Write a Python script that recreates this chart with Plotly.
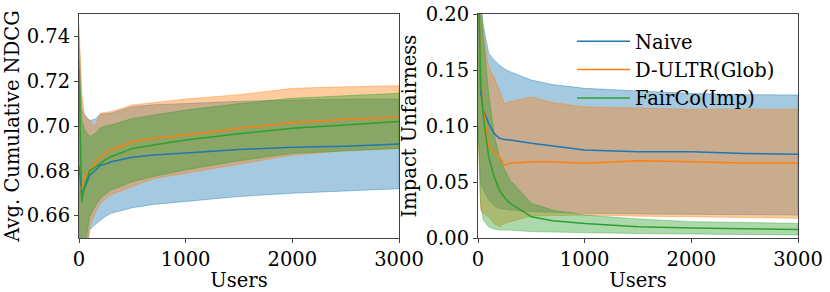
import plotly.graph_objects as go

# ---------------- data ----------------
users = [0, 25, 50, 100, 150, 200, 250, 300, 500, 700, 1000, 1500, 2000, 2500, 3000]

# Avg. Cumulative NDCG (left panel)
ndcg_naive_mean = [0.682, 0.670, 0.672, 0.678, 0.680, 0.6825, 0.683, 0.684, 0.686, 0.687, 0.688, 0.6895, 0.6905, 0.691, 0.692]
ndcg_naive_upper = [0.740, 0.708, 0.705, 0.7025, 0.703, 0.7052, 0.7055, 0.7057, 0.7086, 0.7095, 0.710, 0.711, 0.7116, 0.712, 0.712]
ndcg_naive_lower = [0.620, 0.632, 0.640, 0.6536, 0.656, 0.658, 0.6597, 0.661, 0.6635, 0.665, 0.6664, 0.6685, 0.670, 0.671, 0.672]

ndcg_dultr_mean = [0.671, 0.673, 0.677, 0.680, 0.683, 0.6864, 0.688, 0.6893, 0.693, 0.6945, 0.696, 0.699, 0.7015, 0.703, 0.7039]
ndcg_dultr_upper = [0.745, 0.715, 0.705, 0.7024, 0.700, 0.7057, 0.706, 0.7064, 0.7094, 0.7105, 0.712, 0.714, 0.7168, 0.7175, 0.718]
ndcg_dultr_lower = [0.600, 0.630, 0.640, 0.655, 0.661, 0.6655, 0.6675, 0.6692, 0.673, 0.6765, 0.6789, 0.683, 0.687, 0.689, 0.690]

ndcg_fairco_mean = [0.725, 0.666, 0.673, 0.680, 0.6815, 0.6833, 0.685, 0.6863, 0.690, 0.6915, 0.6938, 0.6965, 0.699, 0.7005, 0.702]
ndcg_fairco_upper = [0.730, 0.703, 0.6985, 0.6952, 0.6965, 0.6992, 0.700, 0.7004, 0.7034, 0.705, 0.7071, 0.710, 0.7124, 0.7135, 0.7146]
ndcg_fairco_lower = [0.660, 0.630, 0.645, 0.6595, 0.664, 0.6677, 0.6695, 0.6714, 0.6751, 0.6775, 0.6804, 0.6845, 0.6878, 0.689, 0.690]

# Impact Unfairness (right panel)
unf_naive_mean = [0.250, 0.130, 0.114, 0.1024, 0.0935, 0.089, 0.088, 0.0875, 0.0845, 0.082, 0.0786, 0.077, 0.0771, 0.0755, 0.0747]
unf_naive_upper = [0.300, 0.210, 0.190, 0.165, 0.159, 0.1545, 0.151, 0.1485, 0.141, 0.137, 0.1336, 0.131, 0.129, 0.128, 0.1277]
unf_naive_lower = [0.100, 0.050, 0.043, 0.034, 0.029, 0.0265, 0.0255, 0.025, 0.0235, 0.0225, 0.022, 0.0215, 0.021, 0.0207, 0.0205]

unf_dultr_mean = [0.250, 0.140, 0.114, 0.0815, 0.077, 0.0726, 0.065, 0.0667, 0.068, 0.068, 0.0667, 0.069, 0.068, 0.067, 0.0667]
unf_dultr_upper = [0.300, 0.200, 0.183, 0.153, 0.144, 0.132, 0.120, 0.1217, 0.126, 0.121, 0.117, 0.116, 0.115, 0.115, 0.115]
unf_dultr_lower = [0.100, 0.025, 0.022, 0.019, 0.013, 0.010, 0.013, 0.0146, 0.0196, 0.020, 0.0205, 0.0195, 0.019, 0.018, 0.0176]

unf_fairco_mean = [0.250, 0.140, 0.108, 0.0726, 0.055, 0.043, 0.036, 0.031, 0.019, 0.0155, 0.013, 0.010, 0.0089, 0.008, 0.0077]
unf_fairco_upper = [0.300, 0.210, 0.180, 0.129, 0.0935, 0.0726, 0.061, 0.0518, 0.031, 0.025, 0.0205, 0.017, 0.0146, 0.0135, 0.013]
unf_fairco_lower = [0.100, 0.030, 0.016, 0.010, 0.008, 0.0071, 0.0071, 0.0071, 0.0057, 0.005, 0.0048, 0.004, 0.0033, 0.003, 0.0027]

series_names = ["Naive", "D-ULTR(Glob)", "FairCo(Imp)"]
x_ticks = [0, 1000, 2000, 3000]
ndcg_ticks = [0.66, 0.68, 0.70, 0.72, 0.74]
unf_ticks = [0.00, 0.05, 0.10, 0.15, 0.20]

# ---------------- style ----------------
colors = ["#1f77b4", "#ff7f0e", "#2ca02c"]
fills = ["rgba(31,119,180,0.4)", "rgba(255,127,14,0.4)", "rgba(44,160,44,0.4)"]
FONT = "DejaVu Serif, serif"
FS = 19.5

fig = go.Figure()

left = [(ndcg_naive_mean, ndcg_naive_upper, ndcg_naive_lower),
        (ndcg_dultr_mean, ndcg_dultr_upper, ndcg_dultr_lower),
        (ndcg_fairco_mean, ndcg_fairco_upper, ndcg_fairco_lower)]
right = [(unf_naive_mean, unf_naive_upper, unf_naive_lower),
         (unf_dultr_mean, unf_dultr_upper, unf_dultr_lower),
         (unf_fairco_mean, unf_fairco_upper, unf_fairco_lower)]
panels = [("x", "y", left), ("x2", "y2", right)]

# bands first
for panel, (xa, ya, data) in enumerate(panels):
    for i, (m, up, lo) in enumerate(data):
        fig.add_trace(go.Scatter(
            x=users + users[::-1], y=up + lo[::-1], mode="lines", xaxis=xa, yaxis=ya,
            fill="toself", fillcolor=fills[i],
            line=dict(color=fills[i], width=1),
            showlegend=False, hoverinfo="skip"))
# mean lines on top
for panel, (xa, ya, data) in enumerate(panels):
    for i, (m, up, lo) in enumerate(data):
        fig.add_trace(go.Scatter(
            x=users, y=m, mode="lines", xaxis=xa, yaxis=ya,
            line=dict(color=colors[i], width=1.5),
            name=series_names[i], showlegend=(panel == 1),
            hoverinfo="skip"))

axis_common = dict(
    showgrid=False, zeroline=False, showline=True, mirror=True, automargin=False,
    linecolor="#444444", linewidth=1, ticks="outside", ticklen=4,
    tickcolor="#444444", tickfont=dict(family=FONT, size=FS, color="black"),
)

W, H = 830.0, 292.0
ML, MR, MT, MB = 79, 32, 14, 54
PW = W - ML - MR

fig.update_layout(
    width=830, height=292,
    margin=dict(l=ML, r=MR, t=MT, b=MB, autoexpand=False),
    paper_bgcolor="white", plot_bgcolor="white",
    font=dict(family=FONT, size=FS, color="black"),
    xaxis=dict(domain=[0, 320 / PW], range=[0, 3000], tickvals=x_ticks,
               title=dict(text="Users", standoff=1, font=dict(family=FONT, size=FS)),
               anchor="y", **axis_common),
    yaxis=dict(domain=[0, 1], range=[0.65, 0.75], tickvals=ndcg_ticks,
               tickformat=".2f",
               title=dict(text="Avg. Cumulative NDCG", standoff=1, font=dict(family=FONT, size=FS)),
               anchor="x", **axis_common),
    xaxis2=dict(domain=[(478 - ML) / PW, 1], range=[0, 3000], tickvals=x_ticks,
                title=dict(text="Users", standoff=1, font=dict(family=FONT, size=FS)),
                anchor="y2", **axis_common),
    yaxis2=dict(domain=[0, 1], range=[0, 0.2], tickvals=unf_ticks,
                tickformat=".2f",
                title=dict(text="Impact Unfairness", standoff=3, font=dict(family=FONT, size=FS)),
                anchor="x2", **axis_common),
    legend=dict(x=(572 - ML) / PW, y=1 - 8 / (H - MT - MB), xanchor="left", yanchor="top",
                bgcolor="rgba(0,0,0,0)", borderwidth=0,
                font=dict(family=FONT, size=FS, color="black"),
                itemwidth=53, tracegroupgap=0),
    showlegend=True,
)

fig.write_html("out.html",
               config={"displayModeBar": False},
               post_script="document.body.style.margin='0';document.body.style.padding='0';")
